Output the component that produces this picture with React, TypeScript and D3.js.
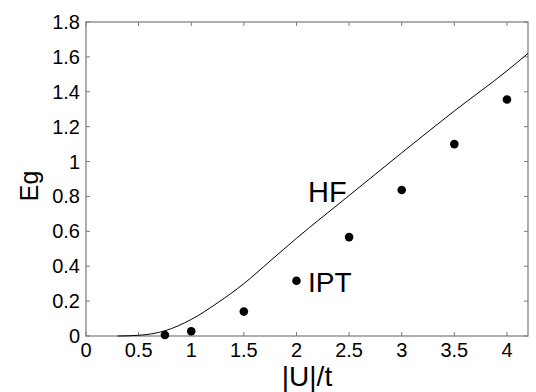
import React, { useEffect, useRef } from 'react'
import * as d3 from 'd3'

// HF gap curve
const hfU = [0.3, 0.5, 0.75, 1.0, 1.25, 1.5, 1.75, 2.0, 2.5, 3.0, 3.5, 4.0, 4.2]
const hfE = [0.0, 0.004, 0.03, 0.095, 0.19, 0.3, 0.43, 0.56, 0.805, 1.05, 1.29, 1.52, 1.62]

// IPT points
const iptU = [0.75, 1.0, 1.5, 2.0, 2.5, 3.0, 3.5, 4.0]
const iptE = [0.006, 0.027, 0.14, 0.317, 0.567, 0.837, 1.1, 1.356]

const xTicks = [0, 0.5, 1, 1.5, 2, 2.5, 3, 3.5, 4]
const xTickLabels = ['0', '0.5', '1', '1.5', '2', '2.5', '3', '3.5', '4']
const yTicks = [0, 0.2, 0.4, 0.6, 0.8, 1, 1.2, 1.4, 1.6, 1.8]
const yTickLabels = ['0', '0.2', '0.4', '0.6', '0.8', '1', '1.2', '1.4', '1.6', '1.8']

const W = 536
const H = 392
const FONT = '"Liberation Sans", Arial, Helvetica, sans-serif'

export default function App() {
  const ref = useRef<SVGSVGElement>(null)

  useEffect(() => {
    const svg = d3.select(ref.current)
    svg.selectAll('*').remove()

    const x = d3.scaleLinear().domain([0, 4.2]).range([86, 528])
    const y = d3.scaleLinear().domain([0, 1.8]).range([336, 22])
    const axisColor = '#7a7a7a'
    const tl = 4

    // frame
    svg.append('rect')
      .attr('x', x(0)).attr('y', y(1.8))
      .attr('width', x(4.2) - x(0)).attr('height', y(0) - y(1.8))
      .attr('fill', 'none').attr('stroke', axisColor).attr('stroke-width', 1.2)

    // ticks on all four sides, pointing inward
    const g = svg.append('g').attr('stroke', axisColor).attr('stroke-width', 1)
    xTicks.forEach(t => {
      g.append('line').attr('x1', x(t)).attr('x2', x(t)).attr('y1', y(0)).attr('y2', y(0) - tl)
      g.append('line').attr('x1', x(t)).attr('x2', x(t)).attr('y1', y(1.8)).attr('y2', y(1.8) + tl)
    })
    yTicks.forEach(t => {
      g.append('line').attr('x1', x(0)).attr('x2', x(0) + tl).attr('y1', y(t)).attr('y2', y(t))
      g.append('line').attr('x1', x(4.2)).attr('x2', x(4.2) - tl).attr('y1', y(t)).attr('y2', y(t))
    })

    svg.append('g').selectAll('text').data(xTicks).enter().append('text')
      .attr('x', d => x(d)).attr('y', 357)
      .attr('text-anchor', 'middle')
      .attr('font-family', FONT).attr('font-size', 20)
      .text((d, i) => xTickLabels[i])

    svg.append('g').selectAll('text').data(yTicks).enter().append('text')
      .attr('x', 80).attr('y', d => y(d)).attr('dy', '0.35em')
      .attr('text-anchor', 'end')
      .attr('font-family', FONT).attr('font-size', 20)
      .text((d, i) => yTickLabels[i])

    // HF curve
    const line = d3.line<number>()
      .x((d, i) => x(hfU[i]))
      .y(d => y(d))
      .curve(d3.curveMonotoneX)
    svg.append('path')
      .attr('d', line(hfE))
      .attr('fill', 'none').attr('stroke', '#000').attr('stroke-width', 1)

    // IPT dots
    svg.append('g').selectAll('circle').data(iptE).enter().append('circle')
      .attr('cx', (d, i) => x(iptU[i])).attr('cy', d => y(d))
      .attr('r', 4.3).attr('fill', '#000')

    // labels
    svg.append('text').attr('x', 308).attr('y', 201.5)
      .attr('font-family', FONT).attr('font-size', 29).text('HF')
    svg.append('text').attr('x', 308).attr('y', 291.5)
      .attr('font-family', FONT).attr('font-size', 28).text('IPT')

    svg.append('text').attr('x', (x(0) + x(4.2)) / 2).attr('y', 386)
      .attr('text-anchor', 'middle')
      .attr('font-family', FONT).attr('font-size', 28).text('|U|/t')

    svg.append('text')
      .attr('transform', 'translate(38,186) rotate(-90)')
      .attr('text-anchor', 'middle')
      .attr('font-family', FONT).attr('font-size', 25).text('Eg')
  }, [])

  return (
    <svg ref={ref} width={W} height={H}
      style={{ position: 'absolute', left: 0, top: 0, background: '#fff' }} />
  )
}
